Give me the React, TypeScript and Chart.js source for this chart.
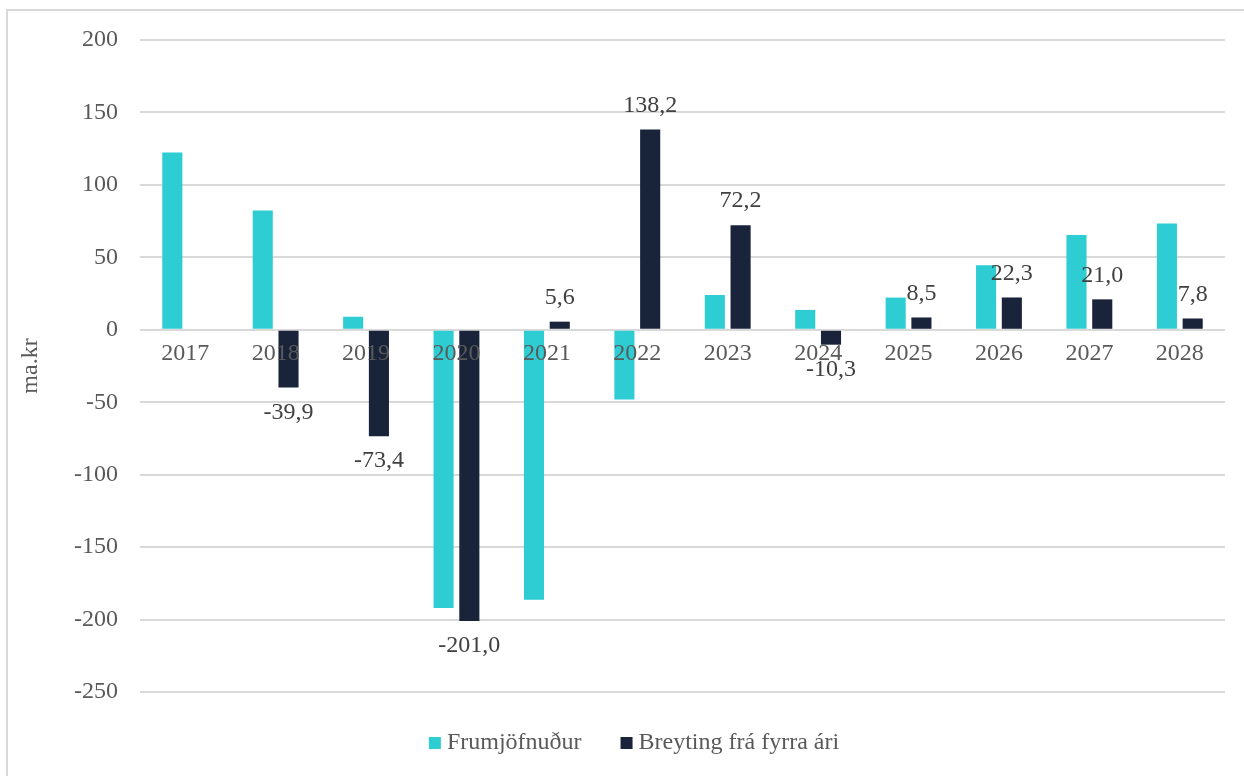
import React, { useEffect, useRef } from "react";
import { Chart, registerables } from "chart.js";

Chart.register(...registerables);

const years = ["2017", "2018", "2019", "2020", "2021", "2022", "2023", "2024", "2025", "2026", "2027", "2028"];
const frumjofnudur = [122.3, 82.4, 9.0, -192.0, -186.4, -48.2, 24.0, 13.7, 22.2, 44.5, 65.5, 73.3];
const breyting: (number | null)[] = [null, -39.9, -73.4, -201.0, 5.6, 138.2, 72.2, -10.3, 8.5, 22.3, 21.0, 7.8];
const seriesNames = ["Frumjöfnuður", "Breyting frá fyrra ári"];
const seriesColors = ["#2ECDD3", "#19233A"];
const yTicksMin = -250;
const yTicksMax = 200;
const yTickStep = 50;
const yTitle = "ma.kr";

const FONT = "'Liberation Serif', 'Times New Roman', serif";
const FS = 24;

const labelPlugin = {
  id: "barLabels",
  afterDatasetsDraw(chart: any) {
    const ctx = chart.ctx;
    const meta = chart.getDatasetMeta(1);
    ctx.save();
    ctx.font = `${FS}px ${FONT}`;
    ctx.fillStyle = "#404040";
    ctx.textAlign = "center";
    ctx.textBaseline = "middle";
    meta.data.forEach((bar: any, i: number) => {
      const v = breyting[i];
      if (v === null || v === undefined) return;
      const txt = v.toFixed(1).replace(".", ",");
      const y = v >= 0 ? bar.y - 24 : bar.y + 25;
      ctx.fillText(txt, bar.x, y);
    });
    ctx.restore();
  },
};

const legendPlugin = {
  id: "customLegend",
  afterDraw(chart: any) {
    const ctx = chart.ctx;
    ctx.save();
    ctx.font = `${FS}px ${FONT}`;
    ctx.textBaseline = "middle";
    ctx.textAlign = "left";
    const box = 12;
    const gapBoxText = 6;
    const gapItems = 39;
    const widths = seriesNames.map((n) => ctx.measureText(n).width);
    const total = widths.reduce((a, w) => a + box + gapBoxText + w, 0) + gapItems * (seriesNames.length - 1);
    const cy = 743;
    let x = 634 - total / 2;
    seriesNames.forEach((n, i) => {
      ctx.fillStyle = seriesColors[i];
      ctx.fillRect(x, cy - box / 2, box, box);
      ctx.fillStyle = "#595959";
      ctx.fillText(n, x + box + gapBoxText, cy);
      x += box + gapBoxText + widths[i] + gapItems;
    });
    ctx.restore();
  },
};

export default function App() {
  const ref = useRef<HTMLCanvasElement | null>(null);
  useEffect(() => {
    if (!ref.current) return;
    const chart = new Chart(ref.current, {
      type: "bar",
      data: {
        labels: years,
        datasets: [
          {
            label: seriesNames[0],
            data: frumjofnudur,
            backgroundColor: seriesColors[0],
            categoryPercentage: 0.57,
            barPercentage: 0.78,
          },
          {
            label: seriesNames[1],
            data: breyting,
            backgroundColor: seriesColors[1],
            categoryPercentage: 0.57,
            barPercentage: 0.78,
          },
        ],
      },
      options: {
        animation: false,
        responsive: false,
        maintainAspectRatio: false,
        layout: { padding: { top: 40, right: 19, left: 0, bottom: 84 } },
        plugins: {
          legend: { display: false },
          tooltip: { enabled: false },
        },
        scales: {
          x: {
            position: { y: 0 } as any,
            grid: { display: false, drawTicks: false },
            border: { display: false },
            ticks: {
              z: 1,
              font: { family: FONT, size: FS },
              color: "#595959",
              padding: 10,
              maxRotation: 0,
            },
          },
          y: {
            min: yTicksMin,
            max: yTicksMax,
            ticks: {
              stepSize: yTickStep,
              font: { family: FONT, size: FS },
              color: "#595959",
              padding: 22,
            },
            grid: { color: "#d9d9d9", lineWidth: 2, drawTicks: false },
            border: { display: false },
            title: {
              display: true,
              text: yTitle,
              font: { family: FONT, size: FS },
              color: "#595959",
              padding: { top: 16, bottom: 0 },
            },
            afterFit(scale: any) {
              scale.width = 140;
            },
          },
        },
      },
      plugins: [labelPlugin, legendPlugin],
    });
    return () => chart.destroy();
  }, []);
  return (
    <div style={{ position: "fixed", left: 0, top: 0, width: 1244, height: 776, background: "#fff" }}>
      <div
        style={{
          position: "absolute",
          left: 6,
          top: 9,
          width: 1260,
          height: 800,
          border: "2px solid #d9d9d9",
        }}
      />
      <canvas ref={ref} width={1244} height={776} style={{ position: "absolute", left: 0, top: 0 }} />
    </div>
  );
}
